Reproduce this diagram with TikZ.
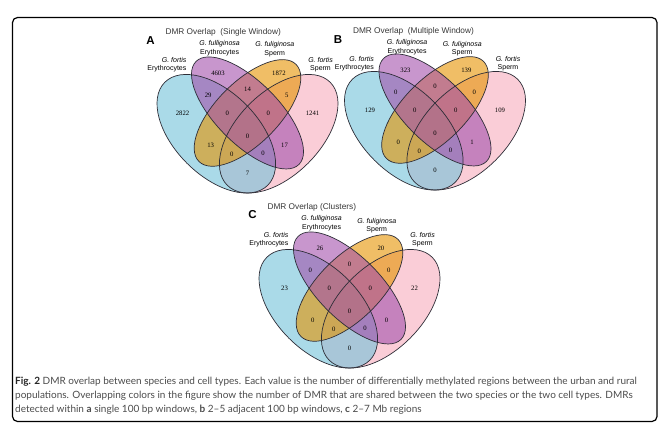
\documentclass[tikz,border=0pt]{standalone}
\usepackage{fontspec}
\setmainfont{Liberation Serif}
\setsansfont{Liberation Sans}
\newfontfamily\capfont{Lato}

\definecolor{vennblue}{RGB}{113,193,217}
\definecolor{vennpurple}{RGB}{163,80,172}
\definecolor{vennorange}{RGB}{230,147,0}
\definecolor{vennpink}{RGB}{247,172,188}
\definecolor{vennline}{RGB}{45,45,55}
\definecolor{titlegrey}{RGB}{55,55,55}
\definecolor{capgrey}{RGB}{75,75,75}

\begin{document}
\begin{tikzpicture}[x=1pt, y=-1pt]

	\tikzstyle venn fill=[fill opacity=.6];
	\tikzstyle venn line=[draw=vennline, line width=.7pt];
	\tikzstyle region count=[font=\rmfamily\fontsize{6.7}{7}\selectfont, inner sep=0pt];
	\tikzstyle set label=[font=\sffamily\fontsize{7}{8.3}\selectfont, align=center, inner sep=0pt];
	\tikzstyle panel title=[font=\sffamily\fontsize{8.3}{10}\selectfont, text=titlegrey, anchor=base west, inner sep=0pt];
	\tikzstyle panel letter=[font=\sffamily\bfseries\fontsize{11.5}{12}\selectfont, anchor=base, inner sep=0pt];
	\tikzstyle caption line=[font=\capfont\fontsize{10}{14}\selectfont, text=capgrey, anchor=base west, inner sep=0pt];

	\useasboundingbox (0,0) rectangle (671,434);
	\draw[line width=1.2pt, rounded corners=5pt] (12.5,17.5) rectangle (657,421.5);

	% A: single window
	\begin{scope}[shift={(143.5,231.5)}, x=208pt, y=208pt]
		\foreach \cx/\cy/\a/\b/\r/\col in {0.65/0.47/0.35/0.2/45/vennpink,0.35/0.47/0.35/0.2/135/vennblue,0.5/0.57/0.33/0.15/45/vennorange,0.5/0.57/0.35/0.15/135/vennpurple}
			\fill[venn fill, fill=\col, rotate around={\r:(\cx,\cy)}] (\cx,\cy) ellipse [x radius=\a, y radius=\b];
		\foreach \cx/\cy/\a/\b/\r in {0.65/0.47/0.35/0.2/45,0.35/0.47/0.35/0.2/135,0.5/0.57/0.33/0.15/45,0.5/0.57/0.35/0.15/135}
			\draw[venn line, rotate around={\r:(\cx,\cy)}] (\cx,\cy) ellipse [x radius=\a, y radius=\b];

		\foreach \u/\v/\n [count=\k] in {0.358/0.761/4603,0.651/0.759/1872,0.311/0.657/29,0.5/0.682/14,0.689/0.657/5,0.1875/0.570/2822,0.403/0.570/0,0.6/0.570/0,0.8125/0.570/1241,0.5/0.460/0,0.323/0.413/13,0.678/0.413/17,0.425/0.373/0,0.575/0.374/0,0.5/0.278/7}
			\node[region count] (a\k) at (\u,\v) {\n};

		\node[set label, anchor=east, align=right] (aFE) at (0.207,0.802) {\textit{G. fortis}\\Erythrocytes};
		\node[set label] (aLE) at (0.366,0.882) {\textit{G. fulliginosa}\\Erythrocytes};
		\node[set label] (aLS) at (0.631,0.876) {\textit{G. fuliginosa}\\Sperm};
		\node[set label] (aFS) at (0.851,0.802) {\textit{G. fortis}\\Sperm};
		\node[panel title] (aT) at (0.105,0.9495) {DMR Overlap~ (Single Window)};
		\node[panel letter] (aL) at (0.034,0.901) {A};
	\end{scope}

	% B: multiple window
	\begin{scope}[shift={(331,228.5)}, x=208pt, y=208pt]
		\foreach \cx/\cy/\a/\b/\r/\col in {0.65/0.47/0.35/0.2/45/vennpink,0.35/0.47/0.35/0.2/135/vennblue,0.5/0.57/0.33/0.15/45/vennorange,0.5/0.57/0.35/0.15/135/vennpurple}
			\fill[venn fill, fill=\col, rotate around={\r:(\cx,\cy)}] (\cx,\cy) ellipse [x radius=\a, y radius=\b];
		\foreach \cx/\cy/\a/\b/\r in {0.65/0.47/0.35/0.2/45,0.35/0.47/0.35/0.2/135,0.5/0.57/0.33/0.15/45,0.5/0.57/0.35/0.15/135}
			\draw[venn line, rotate around={\r:(\cx,\cy)}] (\cx,\cy) ellipse [x radius=\a, y radius=\b];

		\foreach \u/\v/\n [count=\k] in {0.358/0.761/323,0.651/0.759/139,0.311/0.657/0,0.5/0.682/0,0.689/0.657/0,0.1875/0.570/129,0.403/0.570/0,0.6/0.570/0,0.8125/0.570/109,0.5/0.460/0,0.323/0.413/0,0.678/0.413/1,0.425/0.373/0,0.575/0.374/0,0.5/0.278/0}
			\node[region count] (b\k) at (\u,\v) {\n};

		\node[set label, anchor=east, align=right] (bFE) at (0.207,0.791) {\textit{G. fortis}\\Erythrocytes};
		\node[set label] (bLE) at (0.366,0.871) {\textit{G. fulliginosa}\\Erythrocytes};
		\node[set label] (bLS) at (0.631,0.865) {\textit{G. fuliginosa}\\Sperm};
		\node[set label] (bFS) at (0.851,0.791) {\textit{G. fortis}\\Sperm};
		\node[panel title] (bT) at (0.105,0.937) {DMR Overlap~ (Multiple Window)};
		\node[panel letter] (bL) at (0.034,0.890) {B};
	\end{scope}

	% C: clusters
	\begin{scope}[shift={(245.5,406.5)}, x=208pt, y=208pt]
		\foreach \cx/\cy/\a/\b/\r/\col in {0.65/0.47/0.35/0.2/45/vennpink,0.35/0.47/0.35/0.2/135/vennblue,0.5/0.57/0.33/0.15/45/vennorange,0.5/0.57/0.35/0.15/135/vennpurple}
			\fill[venn fill, fill=\col, rotate around={\r:(\cx,\cy)}] (\cx,\cy) ellipse [x radius=\a, y radius=\b];
		\foreach \cx/\cy/\a/\b/\r in {0.65/0.47/0.35/0.2/45,0.35/0.47/0.35/0.2/135,0.5/0.57/0.33/0.15/45,0.5/0.57/0.35/0.15/135}
			\draw[venn line, rotate around={\r:(\cx,\cy)}] (\cx,\cy) ellipse [x radius=\a, y radius=\b];

		\foreach \u/\v/\n [count=\k] in {0.358/0.761/26,0.651/0.759/20,0.311/0.657/0,0.5/0.682/0,0.689/0.657/0,0.1875/0.570/23,0.403/0.570/0,0.6/0.570/0,0.8125/0.570/22,0.5/0.460/0,0.323/0.413/0,0.678/0.413/0,0.425/0.373/0,0.575/0.374/0,0.5/0.278/0}
			\node[region count] (c\k) at (\u,\v) {\n};

		\node[set label, anchor=east, align=right] (cFE) at (0.207,0.802) {\textit{G. fortis}\\Erythrocytes};
		\node[set label] (cLE) at (0.366,0.882) {\textit{G. fulliginosa}\\Erythrocytes};
		\node[set label] (cLS) at (0.631,0.868) {\textit{G. fuliginosa}\\Sperm};
		\node[set label] (cFS) at (0.851,0.801) {\textit{G. fortis}\\Sperm};
		\node[panel title] (cT) at (0.105,0.9495) {DMR Overlap (Clusters)};
		\node[panel letter] (cL) at (0.034,0.906) {C};
	\end{scope}

	% caption
	\node[caption line] (cap1) at (15,384.5) {{\color{black!85}\textbf{Fig. 2}} DMR overlap between species and cell types. Each value is the number of differentially methylated regions between the urban and rural};
	\node[caption line] (cap2) at (15,398.5) {populations. Overlapping colors in the figure show the number of DMR that are shared between the two species or the two cell types. DMRs};
	\node[caption line] (cap3) at (15,412.5) {detected within \textbf{a} single 100 bp windows, \textbf{b} 2–5 adjacent 100 bp windows, \textbf{c} 2–7 Mb regions};

\end{tikzpicture}
\end{document}
